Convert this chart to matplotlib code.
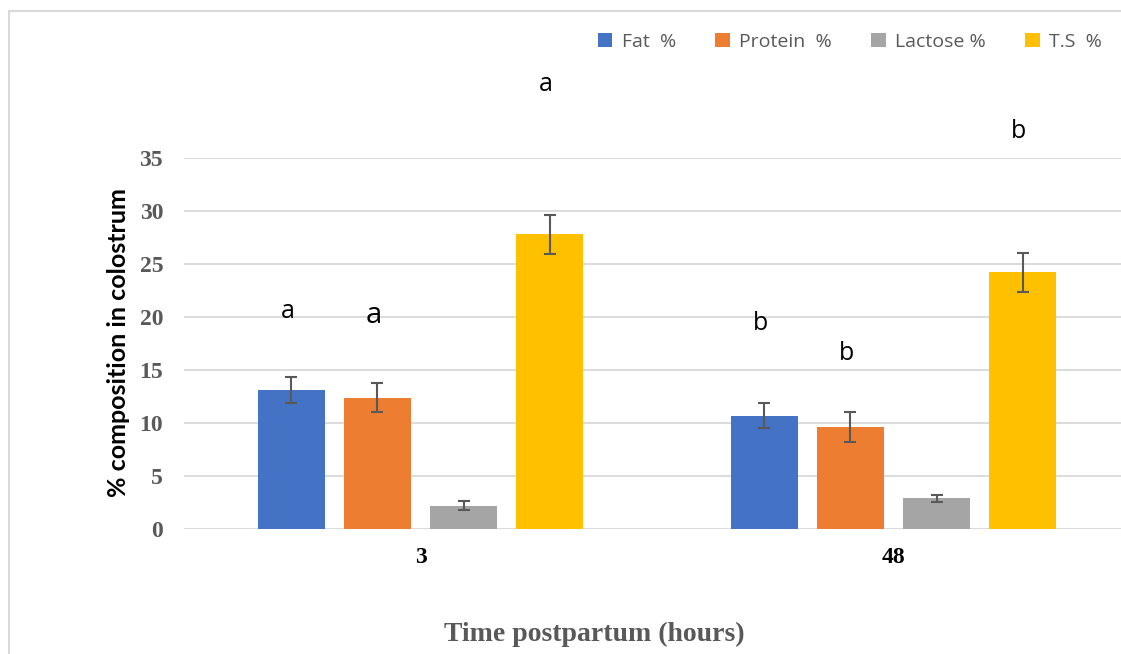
import matplotlib
matplotlib.use("Agg")
import matplotlib.pyplot as plt
from matplotlib.patches import Rectangle
import numpy as np

hours = ["3", "48"]
components = ["Fat  %", "Protein  %", "Lactose %", "T.S  %"]
colors = ["#4472C4", "#ED7D31", "#A5A5A5", "#FFC000"]

fat = [13.1, 10.7]
protein = [12.4, 9.6]
lactose = [2.2, 2.9]
total_solids = [27.8, 24.2]

fat_err = [1.2, 1.2]
protein_err = [1.4, 1.4]
lactose_err = [0.4, 0.35]
ts_err = [1.85, 1.85]

# significance letters: (group, component, letter, y position)
letters = [
    (0, 0, "a", 20.5),
    (0, 1, "a", 20.1),
    (0, 3, "a", 41.9),
    (1, 0, "b", 19.4),
    (1, 1, "b", 16.6),
    (1, 3, "b", 37.5),
]
letter_sizes = [18, 21, 18, 18, 18, 18]

values = [fat, protein, lactose, total_solids]
errors = [fat_err, protein_err, lactose_err, ts_err]

fig = plt.figure(figsize=(11.21, 6.54), dpi=100, facecolor="white")
ax = fig.add_axes([184 / 1121, 125 / 654, (1121 - 184) / 1121, 371 / 654])

x = np.arange(len(hours))
step = 0.182
width = 0.142
offsets = (np.arange(len(components)) - 1.5) * step

for vals, errs, off, col, name in zip(values, errors, offsets, colors, components):
    ax.bar(x + off, vals, width, color=col, label=name, zorder=2)
    ax.errorbar(x + off, vals, yerr=errs, fmt="none", ecolor="#595959",
                elinewidth=1.5, capsize=4.5, capthick=1.5, zorder=3)

for (g, c, letter, y), size in zip(letters, letter_sizes):
    ax.text(x[g] + offsets[c] - 0.008, y, letter, ha="center", va="center",
            fontsize=size, family="Open Sans", color="black", clip_on=False)

ax.set_xlim(-0.5, -0.5 + (1121 - 184) / 473)
ax.set_ylim(0, 35)
ax.set_yticks(range(0, 36, 5))
ax.yaxis.grid(True, color="#d9d9d9", lw=1.3, zorder=0)
ax.set_axisbelow(True)
for spine in ax.spines.values():
    spine.set_visible(False)
ax.tick_params(length=0)
ax.set_xticks(x)
ax.set_xticklabels(hours, fontsize=17, fontweight="bold",
                   family="Liberation Serif", color="black")
ax.tick_params(axis="x", pad=13)
ax.tick_params(axis="y", pad=15)
for lab in ax.get_yticklabels():
    lab.set_fontsize(17)
    lab.set_fontweight("bold")
    lab.set_family("Liberation Serif")
    lab.set_color("#595959")

fig.text(118 / 1121, 1 - 343 / 654, "% composition in colostrum", rotation=90,
         ha="center", va="center", fontsize=18, fontweight="bold",
         family="Lato", color="black")
fig.text(594 / 1121, 1 - 634 / 654, "Time postpartum (hours)", ha="center",
         va="center", fontsize=20, fontweight="bold",
         family="Liberation Serif", color="#595959")

leg = fig.legend(loc="center", bbox_to_anchor=(850 / 1121, 1 - 42 / 654),
                 ncol=4, frameon=False, handlelength=0.75, handleheight=0.75,
                 handletextpad=0.5, columnspacing=2.0,
                 prop={"family": "Open Sans", "size": 14})
for t in leg.get_texts():
    t.set_color("#595959")

fig.add_artist(Rectangle((9 / 1121, -0.1), 1.2, 1.1 - 11 / 654,
                         transform=fig.transFigure, fill=False,
                         ec="#d9d9d9", lw=1.5))

fig.savefig("out.png", dpi=100, facecolor="white")
